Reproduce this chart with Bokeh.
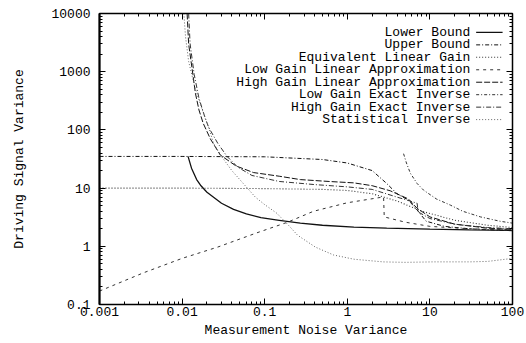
from bokeh.plotting import figure
from bokeh.models import Range1d, LinearScale, LogAxis, FixedTicker, CustomJSTickFormatter
from bokeh.core.properties import value
from bokeh.embed import file_html
from bokeh.resources import INLINE

# ---- data ----
x_ticks = [0.001, 0.01, 0.1, 1, 10, 100]
x_tick_labels = ["0.001", "0.01", "0.1", "1", "10", "100"]
y_ticks = [0.1, 1, 10, 100, 1000, 10000]
y_tick_labels = ["0.1", "1", "10", "100", "1000", "10000"]

series_names = [
    "Lower Bound",
    "Upper Bound",
    "Equivalent Linear Gain",
    "Low Gain Linear Approximation",
    "High Gain Linear Approximation",
    "Low Gain Exact Inverse",
    "High Gain Exact Inverse",
    "Statistical Inverse",
]

lower_x = [0.0118, 0.013, 0.015, 0.0167, 0.02, 0.03, 0.042, 0.06, 0.09, 0.15, 0.27, 0.5, 1.2, 3, 10, 30, 100]
lower_y = [35, 22, 14, 11.2, 8.5, 5.5, 4.3, 3.6, 3.1, 2.8, 2.5, 2.3, 2.14, 2.05, 1.97, 1.92, 1.88]

upper_x = [0.001, 0.01, 0.1, 0.5, 1, 2, 3, 4, 5.5, 7, 9, 15, 30, 100]
upper_y = [35, 35, 34.5, 31, 27, 20, 12, 8, 6.2, 4.2, 2.7, 2.2, 2.0, 1.85]

elg_x = [0.001, 0.01, 0.1, 0.5, 1, 2, 4, 8, 20, 50, 100]
elg_y = [10, 10, 9.8, 9.5, 9.1, 8, 6, 4, 2.8, 2.3, 2.1]

lgla_x = [0.001, 0.0034, 0.01, 0.027, 0.08, 0.19, 0.39, 1, 2.5, 2.75, 2.8, 5, 10, 30, 100]
lgla_y = [0.17, 0.35, 0.62, 0.97, 1.7, 2.6, 4.0, 5.6, 6.9, 7.0, 3.2, 2.6, 2.2, 2.0, 1.9]

hgla_x = [0.0115, 0.012, 0.0135, 0.0145, 0.016, 0.018, 0.022, 0.029, 0.045, 0.073, 0.15, 0.27, 0.6, 1.2, 2, 3.3, 5.5, 7, 10, 20, 50, 100]
hgla_y = [10000, 3000, 900, 425, 220, 130, 70, 37, 24, 18.5, 16, 14, 13, 12.3, 11, 9, 6.5, 4.5, 3.2, 2.4, 2.05, 1.95]

lgei_x = [4.8, 5.2, 5.8, 7, 8.4, 12, 17.7, 25, 41, 70, 100]
lgei_y = [39, 27, 18, 12, 9.2, 6.5, 5.1, 4, 3.2, 2.7, 2.5]

hgei_x = [0.012, 0.0125, 0.014, 0.016, 0.019, 0.021, 0.027, 0.035, 0.047, 0.07, 0.15, 0.4, 1, 2, 4, 7, 7.2, 10, 20, 50, 100]
hgei_y = [10000, 3000, 900, 350, 160, 110, 59, 35, 23, 16.5, 13, 11.5, 10.5, 9.5, 7, 5.5, 3.9, 3.0, 2.4, 2.1, 2.0]

stat_x = [0.0105, 0.011, 0.012, 0.014, 0.017, 0.021, 0.024, 0.03, 0.04, 0.055, 0.077, 0.1, 0.14, 0.2, 0.25, 0.41, 0.68, 1.2, 2.7, 5, 11, 30, 50, 100]
stat_y = [10000, 4000, 1500, 600, 250, 110, 59, 35, 20, 12, 7, 5.2, 3.7, 2.2, 1.55, 0.97, 0.71, 0.6, 0.54, 0.53, 0.54, 0.54, 0.55, 0.62]

# ---- styles ----
FONT = "Liberation Mono"
INK = "#111111"
styles = [
    dict(line_dash="solid", line_width=1.3, line_color=INK),
    dict(line_dash="4 2 1 2", line_width=1.0, line_color=INK),
    dict(line_dash="1 2", line_width=1.1, line_color="#333333"),
    dict(line_dash="3 4", line_width=1.0, line_color="#333333"),
    dict(line_dash="6 2", line_width=1.0, line_color=INK),
    dict(line_dash="3 2 1 2", line_width=1.0, line_color="#333333"),
    dict(line_dash="5 2 1 2", line_width=1.0, line_color="#333333"),
    dict(line_dash="1 2", line_width=1.0, line_color="#666666"),
]
series = [
    (lower_x, lower_y), (upper_x, upper_y), (elg_x, elg_y), (lgla_x, lgla_y),
    (hgla_x, hgla_y), (lgei_x, lgei_y), (hgei_x, hgei_y), (stat_x, stat_y),
]

p = figure(width=526, height=343, x_axis_type="log", y_axis_type="log",
           x_range=Range1d(0.001, 100), y_range=Range1d(0.1, 10000),
           output_backend="svg", toolbar_location=None,
           min_border_left=99, min_border_right=14, min_border_top=13, min_border_bottom=39)
p.xgrid.visible = False
p.ygrid.visible = False
p.outline_line_color = "black"
p.outline_line_width = 1.5
p.background_fill_color = "white"
p.border_fill_color = "white"

def minor_list(major):
    out = []
    for m in major[:-1]:
        out += [m * k for k in range(2, 10)]
    return out

def style_axis(ax, ticks, labels, show_labels):
    ax.ticker = FixedTicker(ticks=ticks, minor_ticks=minor_list(ticks))
    if show_labels:
        ax.major_label_overrides = {t: l for t, l in zip(ticks, labels)}
    else:
        ax.formatter = CustomJSTickFormatter(code="return ''")
    ax.major_tick_in = 6
    ax.major_tick_out = 0
    ax.minor_tick_in = 3
    ax.minor_tick_out = 0
    ax.axis_line_color = "black"
    ax.major_tick_line_color = "black"
    ax.minor_tick_line_color = "black"
    ax.major_label_text_font = FONT
    ax.major_label_text_font_size = "13px"
    ax.major_label_text_color = "black"
    ax.axis_label_text_font = FONT
    ax.axis_label_text_font_size = "13px"
    ax.axis_label_text_font_style = "normal"
    ax.axis_label_text_color = "black"

xa = p.xaxis[0]
ya = p.yaxis[0]
style_axis(xa, x_ticks, x_tick_labels, True)
style_axis(ya, y_ticks, y_tick_labels, True)
xa.axis_label = "Measurement Noise Variance"
ya.axis_label = "Driving Signal Variance"
xa.major_label_standoff = 2
xa.axis_label_standoff = 4
ya.major_label_standoff = 9
ya.axis_label_standoff = 21
ya.axis_line_width = 2

top = LogAxis()
right = LogAxis()
style_axis(top, x_ticks, x_tick_labels, False)
style_axis(right, y_ticks, y_tick_labels, False)
top.major_label_standoff = 0
right.major_label_standoff = 0
p.add_layout(top, "above")
p.add_layout(right, "right")

for (xs, ys), st in zip(series, styles):
    p.line(xs, ys, **st)

# ---- legend drawn in frame-relative coordinates ----
p.extra_x_ranges = {"leg": Range1d(0, 1)}
p.extra_y_ranges = {"leg": Range1d(0, 1)}
p.extra_x_scales = {"leg": LinearScale()}
p.extra_y_scales = {"leg": LinearScale()}

row0 = 0.935
step = 0.0428
text_right = 0.898
samp_x0, samp_x1 = 0.912, 0.976
ys_leg = [row0 - i * step for i in range(len(series_names))]
p.text(x=[text_right] * len(series_names), y=ys_leg, text=series_names,
       text_align="right", text_baseline="middle",
       text_font=value(FONT), text_font_size="13px", text_color="black",
       x_range_name="leg", y_range_name="leg")
for yl, st in zip(ys_leg, styles):
    p.line([samp_x0, samp_x1], [yl, yl], x_range_name="leg", y_range_name="leg", **st)

open("out.html", "w").write(file_html(p, INLINE))
